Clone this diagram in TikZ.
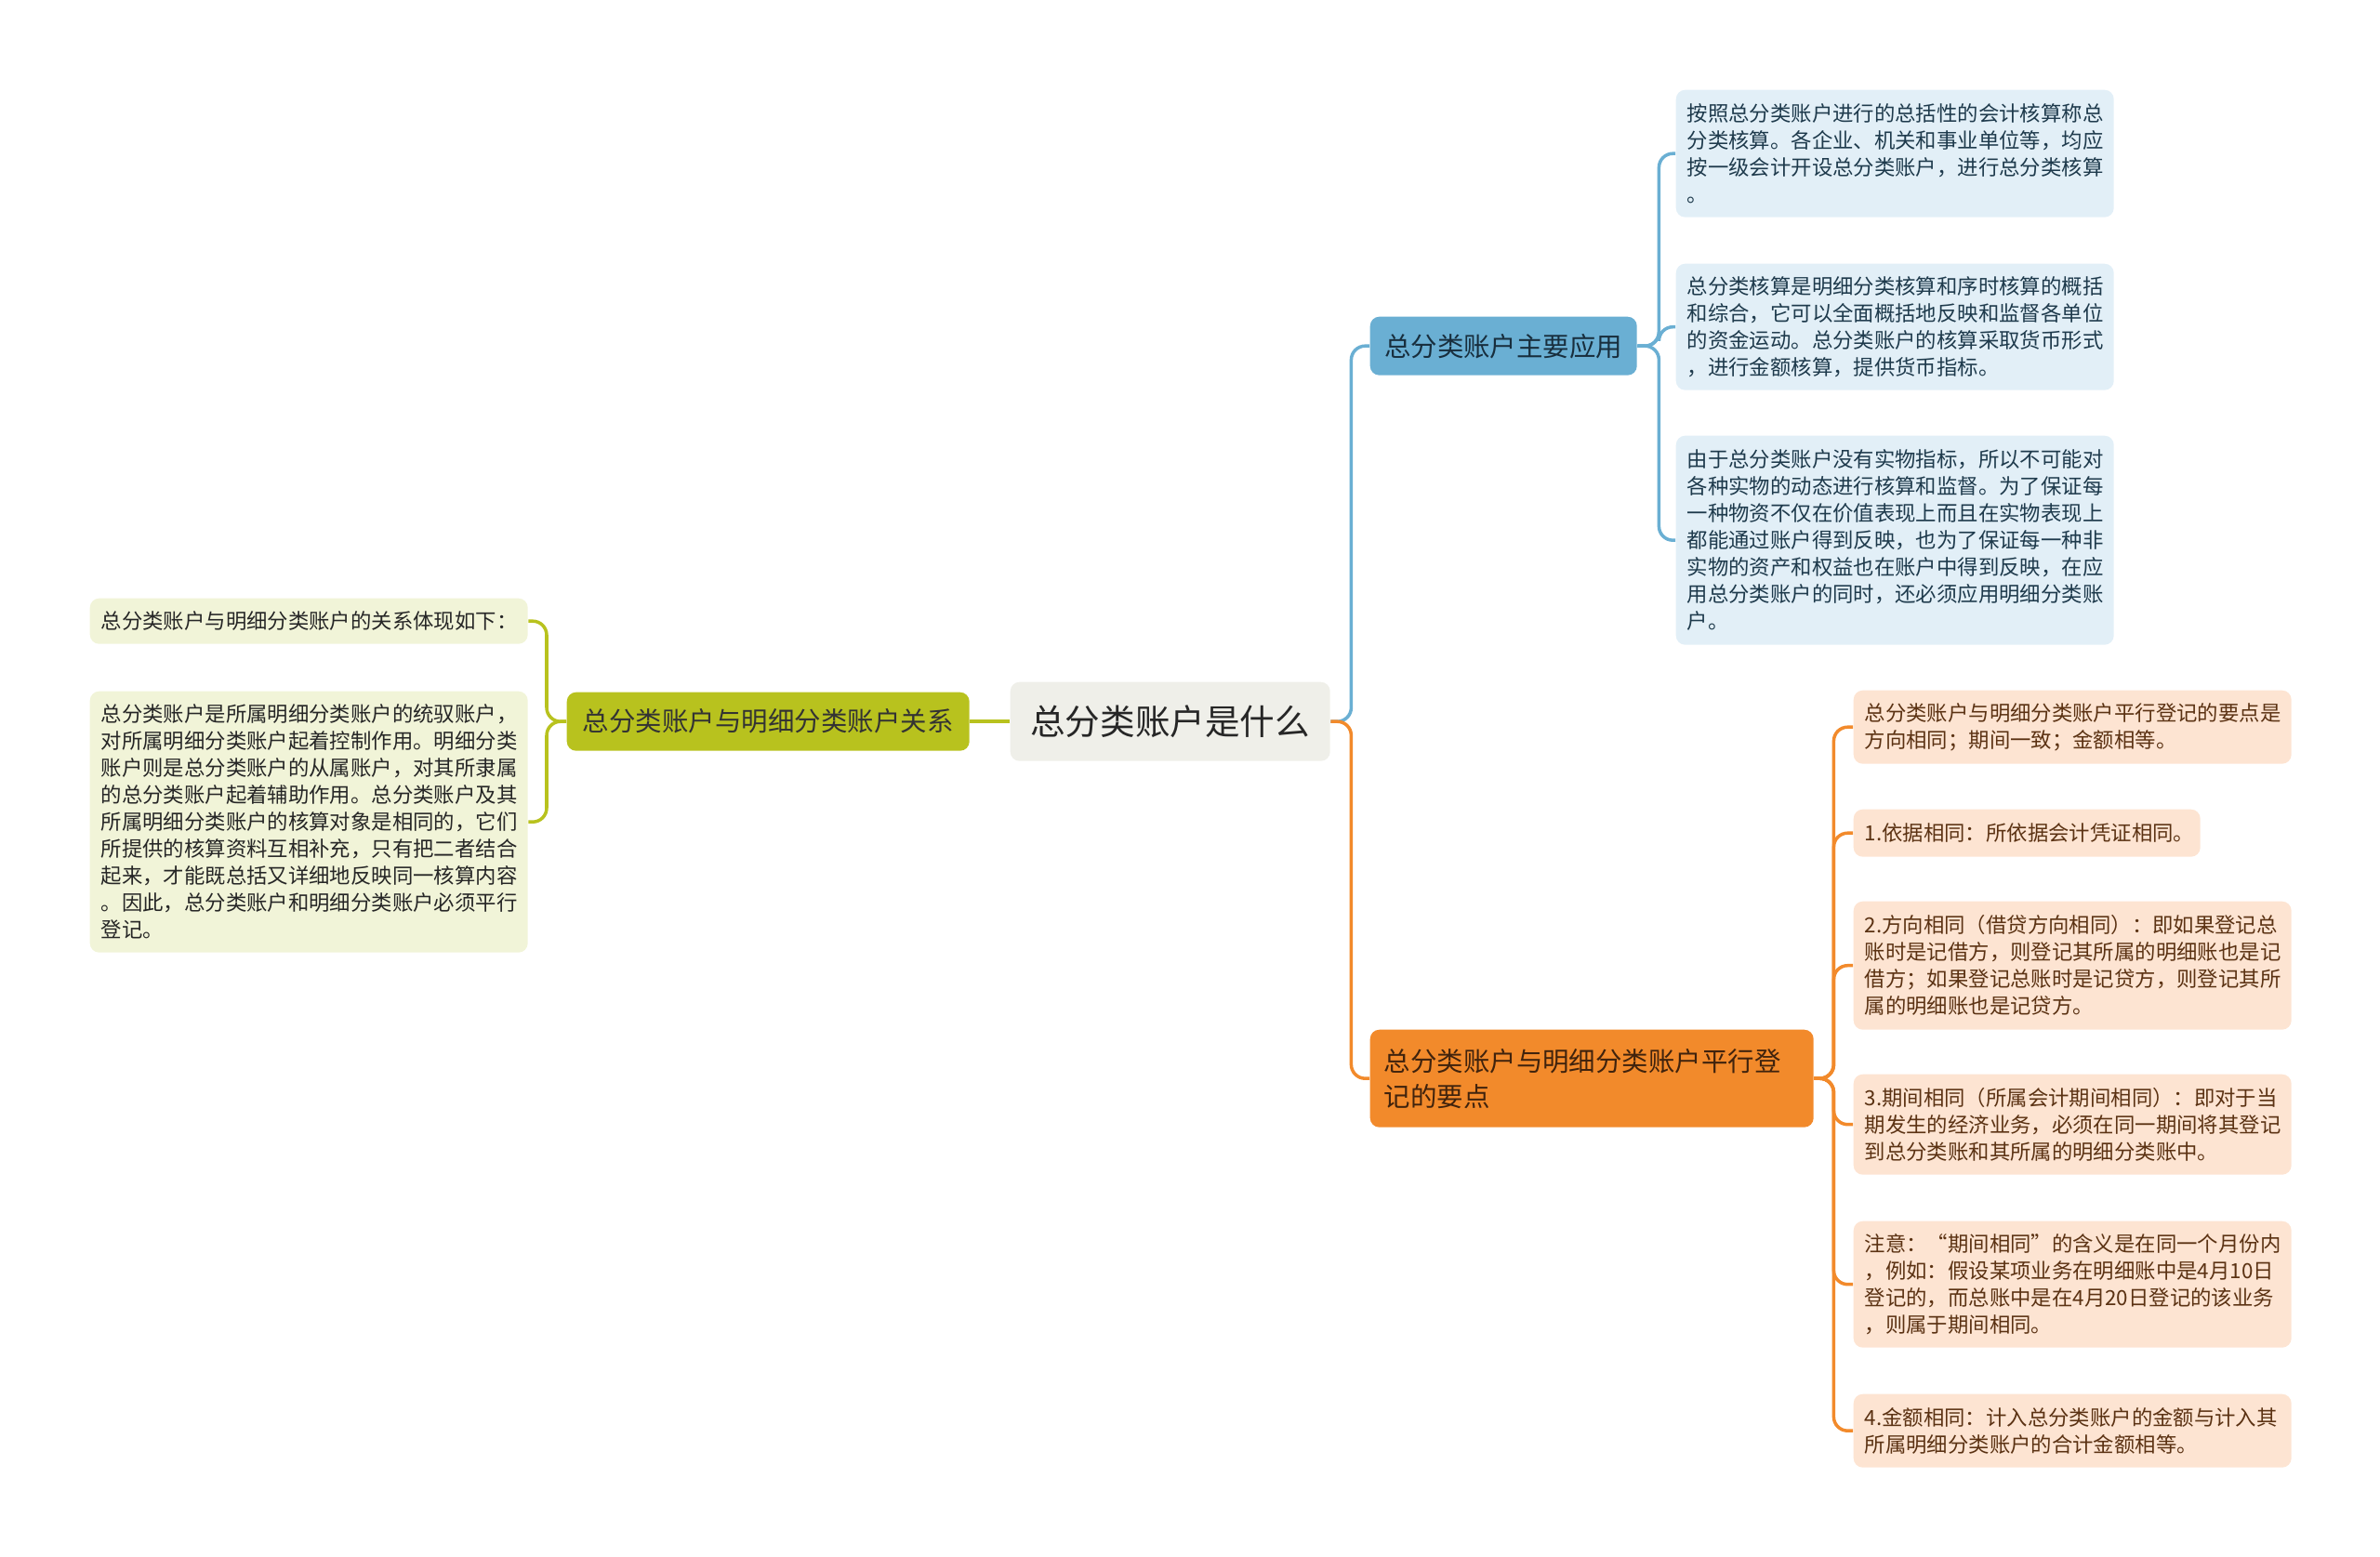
\documentclass[tikz,border=0pt]{standalone}
\usepackage{tikz}
\usepackage{xcolor}
\usepackage{fontspec}
\setmainfont{Noto Sans CJK SC}
\usetikzlibrary{shapes, positioning}

\definecolor{rootfill}{HTML}{EFEFE9}
\definecolor{olivemain}{HTML}{B8C21E}
\definecolor{olivelight}{HTML}{F1F4D8}
\definecolor{bluemain}{HTML}{6AAFD3}
\definecolor{bluelight}{HTML}{E2EFF7}
\definecolor{bluetext}{HTML}{1E3A4C}
\definecolor{orangemain}{HTML}{F28A2B}
\definecolor{orangelight}{HTML}{FDE4D2}
\definecolor{orangetext}{HTML}{5B3213}

\tikzset{
  box/.style={anchor=north west, rounded corners=0.1cm, inner ysep=0.06cm},
  leaf/.style={box, inner xsep=0.12cm, align=left, text width=4.47cm,
    font=\fontsize{6.37pt}{8.25pt}\selectfont},
  branch/.style={box, inner xsep=0.15cm, font=\fontsize{8.1pt}{10.8pt}\selectfont},
  link/.style={line width=1pt, rounded corners=0.15cm}
}

\begin{document}
\begin{tikzpicture}[x=1cm, y=-1cm]

        \useasboundingbox (0,0) rectangle (25.6,16.75);

        % Central topic
        \node[box, fill=rootfill, text=black!85, minimum width=3.44cm, minimum height=0.85cm,
          font=\fontsize{10.7pt}{12pt}\selectfont] (Root) at (10.86,7.33) {总分类账户是什么};

        % Left branch
        \node[branch, fill=olivemain, text=black!80, minimum width=4.33cm, minimum height=0.63cm] (Relation) at (6.09,7.44) {总分类账户与明细分类账户关系};

        \node[leaf, fill=olivelight, text=black!85, minimum height=0.49cm] (RelationIntro) at (0.96,6.43) {总分类账户与明细分类账户的关系体现如下：};
        \node[leaf, fill=olivelight, text=black!85, minimum height=2.81cm] (RelationText) at (0.96,7.43) {总分类账户是所属明细分类账户的统驭账户，\\对所属明细分类账户起着控制作用。明细分类\\账户则是总分类账户的从属账户，对其所隶属\\的总分类账户起着辅助作用。总分类账户及其\\所属明细分类账户的核算对象是相同的，它们\\所提供的核算资料互相补充，只有把二者结合\\起来，才能既总括又详细地反映同一核算内容\\。因此，总分类账户和明细分类账户必须平行\\登记。};

        % Upper right branch
        \node[branch, fill=bluemain, text=bluetext!80!black, minimum width=2.87cm, minimum height=0.63cm] (Usage) at (14.73,3.40) {总分类账户主要应用};

        \node[leaf, fill=bluelight, text=bluetext, minimum height=1.37cm] (UsageA) at (18.02,0.96) {按照总分类账户进行的总括性的会计核算称总\\分类核算。各企业、机关和事业单位等，均应\\按一级会计开设总分类账户，进行总分类核算\\。};
        \node[leaf, fill=bluelight, text=bluetext, minimum height=1.36cm] (UsageB) at (18.02,2.83) {总分类核算是明细分类核算和序时核算的概括\\和综合，它可以全面概括地反映和监督各单位\\的资金运动。总分类账户的核算采取货币形式\\，进行金额核算，提供货币指标。};
        \node[leaf, fill=bluelight, text=bluetext, minimum height=2.25cm] (UsageC) at (18.02,4.68) {由于总分类账户没有实物指标，所以不可能对\\各种实物的动态进行核算和监督。为了保证每\\一种物资不仅在价值表现上而且在实物表现上\\都能通过账户得到反映，也为了保证每一种非\\实物的资产和权益也在账户中得到反映，在应\\用总分类账户的同时，还必须应用明细分类账\\户。};

        % Lower right branch
        \node[branch, fill=orangemain, text=orangetext!70!black, align=left, text width=4.47cm, minimum height=1.05cm] (Parallel) at (14.73,11.07) {总分类账户与明细分类账户平行登\\记的要点};

        \node[leaf, fill=orangelight, text=orangetext, minimum height=0.79cm] (ParallelSum) at (19.93,7.42) {总分类账户与明细分类账户平行登记的要点是\\方向相同；期间一致；金额相等。};
        \node[leaf, fill=orangelight, text=orangetext, text width=3.49cm, minimum height=0.51cm] (ParallelOne) at (19.93,8.70) {1.依据相同：所依据会计凭证相同。};
        \node[leaf, fill=orangelight, text=orangetext, minimum height=1.38cm] (ParallelTwo) at (19.93,9.69) {2.方向相同（借贷方向相同）：即如果登记总\\账时是记借方，则登记其所属的明细账也是记\\借方；如果登记总账时是记贷方，则登记其所\\属的明细账也是记贷方。};
        \node[leaf, fill=orangelight, text=orangetext, minimum height=1.08cm] (ParallelThree) at (19.93,11.55) {3.期间相同（所属会计期间相同）：即对于当\\期发生的经济业务，必须在同一期间将其登记\\到总分类账和其所属的明细分类账中。};
        \node[leaf, fill=orangelight, text=orangetext, minimum height=1.36cm] (ParallelNote) at (19.93,13.13) {注意：“期间相同”的含义是在同一个月份内\\，例如：假设某项业务在明细账中是4月10日\\登记的，而总账中是在4月20日登记的该业务\\，则属于期间相同。};
        \node[leaf, fill=orangelight, text=orangetext, minimum height=0.79cm] (ParallelFour) at (19.93,14.99) {4.金额相同：计入总分类账户的金额与计入其\\所属明细分类账户的合计金额相等。};

        % Connectors from the central topic
        \draw[link, olivemain] (Root.west) -- (Relation.east);
        \draw[link, bluemain] (Root.east) -- ++(0.22,0) |- (Usage.west);
        \draw[link, orangemain] (Root.east) -- ++(0.22,0) |- (Parallel.west);

        % Connectors to the leaves
        \draw[link, olivemain] (Relation.west) -- ++(-0.21,0) |- (RelationIntro.east);
        \draw[link, olivemain] (Relation.west) -- ++(-0.21,0) |- (RelationText.east);

        \draw[link, bluemain] (Usage.east) -- ++(0.23,0) |- (UsageA.west);
        \draw[link, bluemain] (Usage.east) -- ++(0.23,0) |- (UsageB.west);
        \draw[link, bluemain] (Usage.east) -- ++(0.23,0) |- (UsageC.west);

        \draw[link, orangemain] (Parallel.east) -- ++(0.21,0) |- (ParallelSum.west);
        \draw[link, orangemain] (Parallel.east) -- ++(0.21,0) |- (ParallelOne.west);
        \draw[link, orangemain] (Parallel.east) -- ++(0.21,0) |- (ParallelTwo.west);
        \draw[link, orangemain] (Parallel.east) -- ++(0.21,0) |- (ParallelThree.west);
        \draw[link, orangemain] (Parallel.east) -- ++(0.21,0) |- (ParallelNote.west);
        \draw[link, orangemain] (Parallel.east) -- ++(0.21,0) |- (ParallelFour.west);

      \end{tikzpicture}
\end{document}
